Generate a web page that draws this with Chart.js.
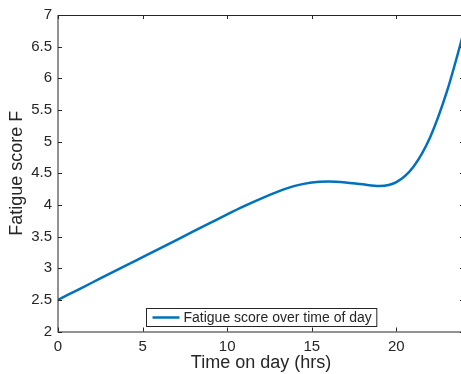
<!DOCTYPE html>
<html lang="en">
<head>
    <meta charset="UTF-8">
    <title>Fatigue score</title>
    <script src="https://cdn.jsdelivr.net/npm/chart.js"></script>
    <style>
        html, body {
            margin: 0;
            padding: 0;
            background: #fff;
            overflow: hidden;
        }
        #wrap {
            width: 470px;
            height: 374px;
        }
    </style>
</head>
<body>
    <div id="wrap">
        <canvas id="myChart" width="470" height="374"></canvas>
    </div>

    <script>
        // data
        const hours = [0, 1, 2, 3, 4, 5, 6, 7, 8, 9, 10, 11, 12, 13, 14, 15, 16, 17, 18, 19, 20, 21, 22, 23, 24];
        const fatigue = [2.50, 2.635, 2.77, 2.905, 3.04, 3.175, 3.31, 3.445, 3.58, 3.715, 3.85, 3.98, 4.10, 4.21, 4.30, 4.355, 4.37, 4.355, 4.325, 4.30, 4.36, 4.60, 5.07, 5.80, 6.74];
        const seriesLabel = 'Fatigue score over time of day';

        const axisColor = '#262626';
        const fontFamily = '"Liberation Sans", Arial, sans-serif';

        // MATLAB-like box with inward ticks on all four sides
        const boxPlugin = {
            id: 'box',
            afterDraw(chart) {
                const ctx = chart.ctx;
                const a = chart.chartArea;
                const xs = chart.scales.x;
                const ys = chart.scales.y;
                const len = 4;
                ctx.save();
                ctx.strokeStyle = axisColor;
                ctx.lineWidth = 1;
                ctx.beginPath();
                xs.ticks.forEach(t => {
                    const px = Math.round(xs.getPixelForValue(t.value)) + 0.5;
                    ctx.moveTo(px, a.bottom); ctx.lineTo(px, a.bottom - len);
                    ctx.moveTo(px, a.top); ctx.lineTo(px, a.top + len);
                });
                ys.ticks.forEach(t => {
                    const py = Math.round(ys.getPixelForValue(t.value)) + 0.5;
                    ctx.moveTo(a.left, py); ctx.lineTo(a.left + len, py);
                    ctx.moveTo(a.right, py); ctx.lineTo(a.right - len, py);
                });
                ctx.stroke();
                ctx.strokeRect(a.left, a.top + 0.5, a.right - a.left, a.bottom - a.top);

                // legend box, bottom centre inside the axes
                const ds = chart.data.datasets[0];
                ctx.font = '14px ' + fontFamily;
                const tw = ctx.measureText(ds.label).width;
                const lineLen = 27;
                const w = 6 + lineLen + 4 + tw + 5;
                const h = 18;
                const cx = (a.left + a.right) / 2;
                const x0 = Math.round(cx - w / 2) + 0.5;
                const y0 = Math.round(a.bottom - 6 - h) + 0.5;
                ctx.fillStyle = '#fff';
                ctx.fillRect(x0, y0, w, h);
                ctx.strokeStyle = axisColor;
                ctx.strokeRect(x0, y0, w, h);
                ctx.strokeStyle = ds.borderColor;
                ctx.lineWidth = 2.5;
                ctx.beginPath();
                ctx.moveTo(x0 + 6, y0 + h / 2);
                ctx.lineTo(x0 + 6 + lineLen, y0 + h / 2);
                ctx.stroke();
                ctx.fillStyle = axisColor;
                ctx.textBaseline = 'middle';
                ctx.textAlign = 'left';
                ctx.fillText(ds.label, x0 + 6 + lineLen + 4, y0 + h / 2 + 0.5);
                ctx.restore();
            }
        };

        new Chart(document.getElementById('myChart'), {
            type: 'line',
            data: {
                labels: hours,
                datasets: [{
                    label: seriesLabel,
                    data: hours.map((h, i) => ({x: h, y: fatigue[i]})),
                    borderColor: '#0072BD',
                    borderWidth: 2.5,
                    pointRadius: 0,
                    cubicInterpolationMode: 'monotone',
                    fill: false
                }]
            },
            options: {
                responsive: false,
                animation: false,
                layout: {
                    padding: {top: 11, right: 6, left: 0, bottom: 0}
                },
                plugins: {
                    legend: {display: false},
                    tooltip: {enabled: false}
                },
                scales: {
                    x: {
                        type: 'linear',
                        min: 0,
                        max: 24,
                        grid: {display: false, drawTicks: false},
                        border: {display: false},
                        ticks: {
                            stepSize: 5,
                            includeBounds: false,
                            padding: 6,
                            maxRotation: 0,
                            color: axisColor,
                            font: {family: fontFamily, size: 15}
                        },
                        title: {
                            display: true,
                            text: 'Time on day (hrs)',
                            color: axisColor,
                            padding: {top: 0, bottom: 0},
                            font: {family: fontFamily, size: 18}
                        },
                        afterFit(scale) { scale.height = 42.5; }
                    },
                    y: {
                        min: 2,
                        max: 7,
                        grid: {display: false, drawTicks: false},
                        border: {display: false},
                        ticks: {
                            stepSize: 0.5,
                            padding: 6,
                            color: axisColor,
                            font: {family: fontFamily, size: 15},
                            callback: v => String(v)
                        },
                        title: {
                            display: true,
                            text: 'Fatigue score F',
                            color: axisColor,
                            padding: {top: 6, bottom: 0},
                            font: {family: fontFamily, size: 18}
                        },
                        afterFit(scale) { scale.width = 58; }
                    }
                }
            },
            plugins: [boxPlugin]
        });
    </script>
</body>
</html>
